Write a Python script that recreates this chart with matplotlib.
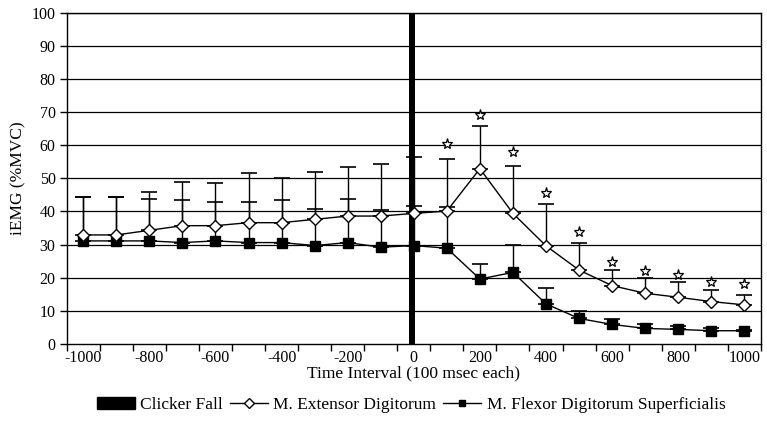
import matplotlib

matplotlib.use("Agg")
import matplotlib.pyplot as plt
from matplotlib.lines import Line2D
from matplotlib.patches import Patch

plt.rcParams["font.family"] = ["Liberation Serif", "DejaVu Serif"]

# categories: 100 msec intervals from -1000 to 1000
times = list(range(-1000, 1001, 100))
tick_labels = [str(t) if t % 200 == 0 else "" for t in times]

extensor = [32.9, 32.9, 34.3, 35.7, 35.7, 36.6, 36.6, 37.6, 38.6, 38.6, 39.4,
            40.1, 52.9, 39.4, 29.6, 22.3, 17.6, 15.3, 14.1, 12.8, 11.8]
extensor_top = [44.5, 44.5, 45.8, 49.0, 48.6, 51.5, 50.1, 52.0, 53.4, 54.4, 56.5,
                55.8, 65.9, 53.8, 42.3, 30.6, 22.3, 20.0, 18.6, 16.2, 14.7]
flexor = [31.1, 31.1, 31.1, 30.6, 31.1, 30.6, 30.6, 29.7, 30.6, 29.2, 29.7,
          28.9, 19.6, 21.6, 12.1, 7.7, 5.9, 4.7, 4.4, 4.0, 4.0]
flexor_top = [44.3, 44.3, 43.7, 43.3, 42.9, 42.9, 43.3, 40.8, 43.8, 40.4, 41.7,
              41.4, 24.2, 29.9, 17.0, 10.0, 7.4, 6.1, 5.3, 4.7, 4.3]
star_times = [100, 200, 300, 400, 500, 600, 700, 800, 900, 1000]
star_y = [60.2, 69.1, 57.8, 45.5, 33.7, 24.7, 22.1, 20.8, 18.8, 18.0]
clicker_time = 0
clicker_value = 100

fig = plt.figure(figsize=(7.67, 4.41), dpi=100)
ax = fig.add_axes([0.087, 0.22, 0.905, 0.7515])

pos = list(range(len(times)))
idx = {t: i for i, t in enumerate(times)}

for y in range(10, 101, 10):
    ax.axhline(y, color="black", linewidth=0.9, zorder=1)

ax.bar(idx[clicker_time] - 0.05, clicker_value, width=0.17, color="black", zorder=2)

ext_err = [[0] * len(extensor), [t - v for t, v in zip(extensor_top, extensor)]]
flx_err = [[0] * len(flexor), [t - v for t, v in zip(flexor_top, flexor)]]

ax.errorbar(pos, flexor, yerr=flx_err, fmt="none", ecolor="black", elinewidth=1,
            capsize=6, capthick=1.2, zorder=3)
ax.errorbar(pos, extensor, yerr=ext_err, fmt="none", ecolor="black", elinewidth=1,
            capsize=6, capthick=1.2, zorder=3)
ax.plot(pos, flexor, color="black", linewidth=1, marker="s", markersize=6.5,
        markerfacecolor="black", markeredgecolor="black", zorder=4)
ax.plot(pos, extensor, color="black", linewidth=1, marker="D", markersize=6.5,
        markerfacecolor="white", markeredgecolor="black", markeredgewidth=1, zorder=5)

ax.plot([idx[t] for t in star_times], star_y, linestyle="none", marker="*",
        markersize=8, markerfacecolor="white", markeredgecolor="black",
        markeredgewidth=0.9, zorder=6)

ax.set_xlim(-0.5, len(times) - 0.5)
ax.set_ylim(0, 100)
ax.set_yticks(range(0, 101, 10))
ax.set_xticks([i - 0.5 for i in range(len(times) + 1)])
ax.set_xticklabels([])
ax.set_xticks(pos, minor=True)
ax.set_xticklabels(tick_labels, minor=True)
ax.tick_params(axis="x", which="minor", length=0, pad=4, labelsize=11.5)
ax.tick_params(axis="x", which="major", length=5, width=1, direction="out")
ax.tick_params(axis="y", length=5, width=1, direction="out", labelsize=11.5, pad=3)

for side in ["left", "bottom", "right", "top"]:
    ax.spines[side].set_linewidth(1)
    ax.spines[side].set_color("black")

ax.set_xlabel("Time Interval (100 msec each)", fontsize=12.5, labelpad=0)
ax.set_ylabel("iEMG (%MVC)", fontsize=12.5, labelpad=4)

handles = [
    Patch(facecolor="black", edgecolor="black"),
    Line2D([], [], color="black", linewidth=1, marker="D", markersize=5,
           markerfacecolor="white", markeredgecolor="black"),
    Line2D([], [], color="black", linewidth=1, marker="s", markersize=5,
           markerfacecolor="black", markeredgecolor="black"),
]
labels = ["Clicker Fall", "M. Extensor Digitorum", "M. Flexor Digitorum Superficialis"]
fig.legend(handles, labels, loc="center", bbox_to_anchor=(0.536, 0.082), ncol=3,
           frameon=False, fontsize=12.5, handlelength=2.2, handletextpad=0.3,
           columnspacing=0.4)

fig.savefig("out.png", dpi=100)
